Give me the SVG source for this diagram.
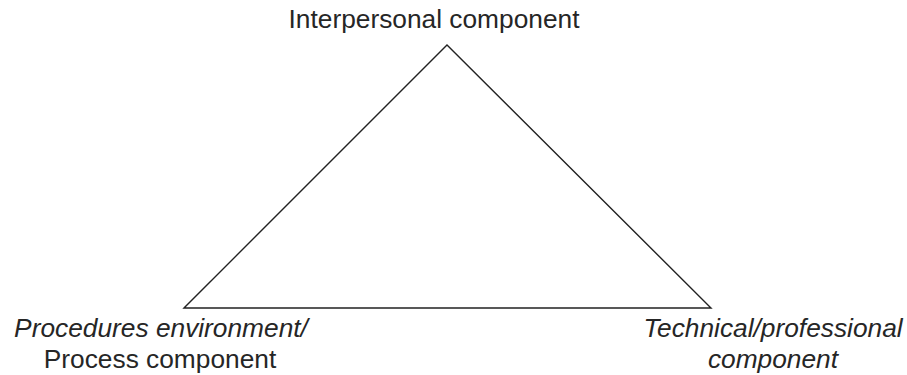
<svg xmlns="http://www.w3.org/2000/svg" width="907" height="375" viewBox="0 0 907 375">
<style>
text{font-family:"Liberation Sans",Arial,sans-serif;font-size:26.3px;fill:#262626;text-anchor:middle}
.i{font-style:italic}
.edge{stroke:#222;stroke-width:1.4;fill:none}
</style>
<rect width="907" height="375" fill="#fff"/>
<g id="connectors">
<path class="edge" d="M184,308 L447,45 L711,308 Z" stroke-linejoin="miter"/>
</g>
<g id="interpersonal"><text x="434" y="28">Interpersonal component</text></g>
<g id="process"><text class="i" x="161" y="337">Procedures environment/</text><text x="160" y="368">Process component</text></g>
<g id="technical"><text class="i" x="773" y="337">Technical/professional</text><text class="i" x="773" y="368">component</text></g>
</svg>
